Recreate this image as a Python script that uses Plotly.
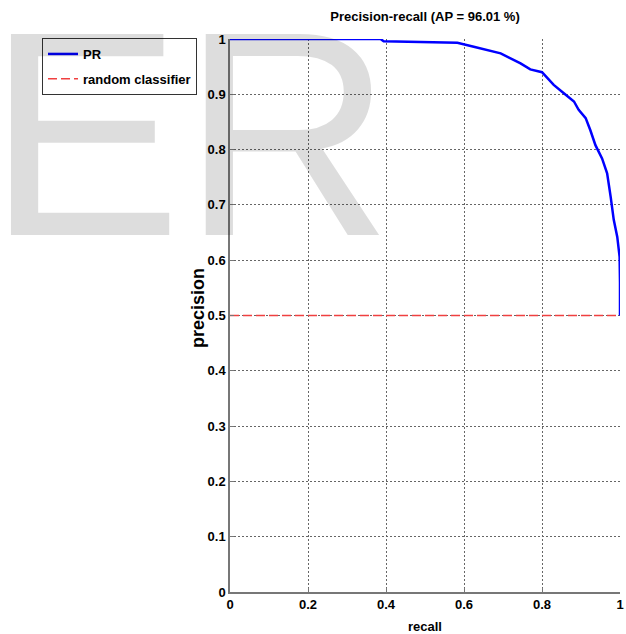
import plotly.graph_objects as go

recall = [0, 0.386, 0.394, 0.47, 0.583, 0.625, 0.66, 0.694, 0.745, 0.77, 0.8, 0.83,
          0.856, 0.882, 0.894, 0.912, 0.924, 0.937, 0.954, 0.967, 0.976, 0.984, 0.993,
          0.999, 1.0, 1.0]
precision = [1.0, 1.0, 0.996, 0.995, 0.993, 0.986, 0.98, 0.974, 0.956, 0.945, 0.94, 0.917,
             0.902, 0.887, 0.872, 0.857, 0.835, 0.808, 0.784, 0.757, 0.715, 0.673, 0.642,
             0.606, 0.559, 0.5]
random_x = [0, 1]
random_y = [0.5, 0.5]

x_ticks = [0, 0.2, 0.4, 0.6, 0.8, 1]
x_ticktext = ["0", "0.2", "0.4", "0.6", "0.8", "1"]
y_ticks = [0, 0.1, 0.2, 0.3, 0.4, 0.5, 0.6, 0.7, 0.8, 0.9, 1]
y_ticktext = ["0", "0.1", "0.2", "0.3", "0.4", "0.5", "0.6", "0.7", "0.8", "0.9", "1"]

title_text = "<b>Precision-recall (AP = 96.01 %)</b>"

FONT = "Liberation Sans, Arial"

fig = go.Figure()
fig.add_trace(go.Scatter(x=recall, y=precision, mode="lines", name="<b>PR</b>", legendgroup="a",
                         line=dict(color="#0000ff", width=2.5), cliponaxis=False))
fig.add_trace(go.Scatter(x=random_x, y=random_y, mode="lines", name="<b>random classifier</b>",
                         legendgroup="b",
                         line=dict(color="#f04040", width=1.5, dash="9px,4px"), cliponaxis=False))

axis_common = dict(
    range=[0, 1], showgrid=True, gridcolor="#666666", gridwidth=1, griddash="2px,2px",
    zeroline=False, showline=True, linecolor="#777777", linewidth=1.5,
    ticks="inside", ticklen=4, tickcolor="#777777",
    tickfont=dict(family=FONT, size=13, color="black", weight="bold"),
)

fig.update_layout(
    width=626, height=634,
    margin=dict(l=230, r=6, t=39, b=42, autoexpand=False),
    paper_bgcolor="white", plot_bgcolor="white",
    title=dict(text=title_text, x=0.5, xref="paper", y=1 - 16 / 634, yref="container",
               xanchor="center", yanchor="middle",
               font=dict(family=FONT, size=13, color="black")),
    xaxis=dict(tickvals=x_ticks, ticktext=x_ticktext, **axis_common),
    yaxis=dict(tickvals=y_ticks, ticktext=y_ticktext, **axis_common),
    showlegend=True,
    legend=dict(x=(42 - 230) / 390, y=(592 - 38) / 553, xanchor="left", yanchor="top",
                bgcolor="rgba(0,0,0,0)", bordercolor="#333333", borderwidth=1,
                tracegroupgap=5,
                font=dict(family=FONT, size=13, color="black")),
)

fig.add_annotation(text="<b>recall</b>", xref="paper", yref="paper", x=0.5, y=(592 - 626) / 553,
                   xanchor="center", yanchor="middle", showarrow=False,
                   font=dict(family=FONT, size=13, color="black"))
fig.add_annotation(text="<b>precision</b>", xref="paper", yref="paper", x=(198 - 230) / 390,
                   y=(592 - 308) / 553, xanchor="center", yanchor="middle", textangle=-90,
                   showarrow=False, font=dict(family=FONT, size=18, color="black"))

# watermark
fig.add_annotation(text="ER", xref="paper", yref="paper", x=(190 - 230) / 390,
                   y=(592 - 134) / 553, xanchor="center", yanchor="middle", showarrow=False,
                   font=dict(family=FONT, size=292, color="rgba(0,0,0,0.135)"))

fig.write_html("out.html")
